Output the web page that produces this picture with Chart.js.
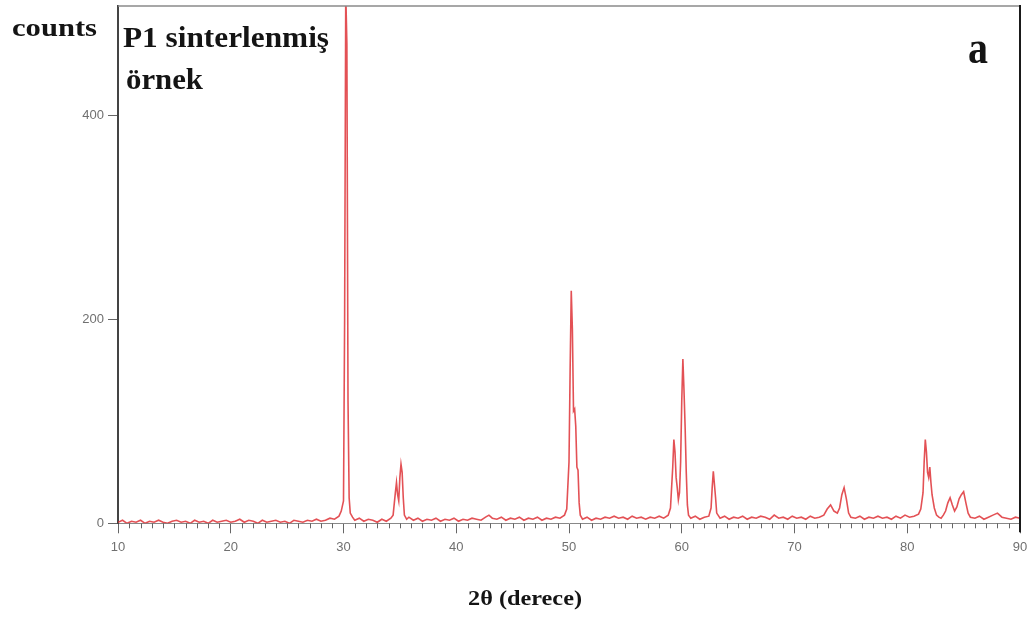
<!DOCTYPE html>
<html>
<head>
<meta charset="utf-8">
<script src="https://cdn.jsdelivr.net/npm/chart.js@4/dist/chart.umd.min.js"></script>
<style>
  html, body { margin: 0; padding: 0; background: #ffffff; }
  #wrap { width: 1032px; height: 625px; }
</style>
</head>
<body>
<div id="wrap"><canvas id="c" width="1032" height="625"></canvas></div>
<script>
const angles = [
  10.0,10.4,10.8,11.2,11.6,12.0,12.4,12.8,13.2,13.6,
  14.0,14.4,14.8,15.2,15.6,16.0,16.4,16.8,17.2,17.6,
  18.0,18.4,18.8,19.2,19.6,20.0,20.4,20.8,21.2,21.6,
  22.0,22.4,22.8,23.2,23.6,24.0,24.4,24.8,25.2,25.6,
  26.0,26.4,26.8,27.2,27.6,28.0,28.4,28.8,29.2,29.6,
  29.8,30.0,30.1,30.2,30.3,30.4,30.5,30.6,30.8,31.0,
  31.4,31.8,32.2,32.6,33.0,33.4,33.8,34.2,34.4,34.6,
  34.7,34.8,34.9,35.0,35.1,35.2,35.3,35.4,35.6,35.8,
  36.2,36.6,37.0,37.4,37.8,38.2,38.6,39.0,39.4,39.8,
  40.2,40.6,41.0,41.4,41.8,42.2,42.6,42.9,43.2,43.6,
  44.0,44.4,44.8,45.2,45.6,46.0,46.4,46.8,47.2,47.6,
  48.0,48.4,48.8,49.2,49.6,49.8,50.0,50.1,50.2,50.3,
  50.4,50.5,50.6,50.7,50.8,50.9,51.0,51.2,51.6,52.0,
  52.4,52.8,53.2,53.6,54.0,54.4,54.8,55.2,55.6,56.0,
  56.4,56.8,57.2,57.6,58.0,58.4,58.8,59.0,59.2,59.3,
  59.4,59.5,59.6,59.7,59.8,59.9,60.0,60.1,60.2,60.3,
  60.4,60.5,60.6,60.8,61.2,61.6,62.0,62.4,62.6,62.7,
  62.8,62.9,63.0,63.1,63.4,63.8,64.2,64.6,65.0,65.4,
  65.8,66.2,66.6,67.0,67.4,67.8,68.2,68.6,69.0,69.4,
  69.8,70.2,70.6,71.0,71.4,71.8,72.2,72.6,72.9,73.2,
  73.5,73.8,74.0,74.2,74.4,74.6,74.8,75.0,75.4,75.8,
  76.2,76.6,77.0,77.4,77.8,78.2,78.6,79.0,79.4,79.8,
  80.2,80.6,81.0,81.2,81.4,81.5,81.6,81.7,81.8,81.9,
  82.0,82.1,82.2,82.4,82.6,82.8,83.0,83.2,83.4,83.6,
  83.8,84.0,84.2,84.4,84.6,84.8,85.0,85.2,85.4,85.6,
  86.0,86.4,86.8,87.2,87.6,88.0,88.4,88.8,89.2,89.6,
  90.0
];
const counts = [
  1,3,0,2,1,3,0,2,1,3,
  1,0,2,3,1,2,0,3,1,2,
  0,3,1,2,3,1,2,4,1,3,
  2,0,3,1,2,3,1,2,0,3,
  2,1,3,2,4,2,3,5,4,7,
  12,22,200,520,470,120,25,10,6,3,
  5,2,4,3,1,4,2,5,8,30,
  40,28,22,45,58,50,25,8,4,6,
  3,5,2,4,3,5,2,4,3,5,
  2,4,3,5,4,3,6,8,5,4,
  6,3,5,4,6,3,5,4,6,3,
  5,4,6,5,8,14,60,150,228,190,
  110,112,95,55,52,20,8,4,6,3,
  5,4,6,5,7,5,6,4,7,5,
  6,4,6,5,7,5,8,15,55,82,
  70,45,35,23,30,60,120,161,130,94,
  50,18,8,5,7,4,6,7,15,35,
  51,38,25,10,5,7,4,6,5,7,
  4,6,5,7,6,4,8,5,6,4,
  7,5,6,4,7,5,6,8,14,18,
  12,10,15,28,35,24,10,6,5,7,
  4,6,5,7,5,6,4,7,5,8,
  6,7,9,14,30,60,82,70,50,45,
  55,40,28,15,8,6,5,8,12,20,
  25,18,12,16,24,28,31,20,10,6,
  5,7,4,6,8,10,6,5,4,6,
  5
];
const xTickValues = [10, 20, 30, 40, 50, 60, 70, 80, 90];
const yTickValues = [0, 200, 400];
const yLabel = "counts";
const sampleLabel = ["P1 sinterlenmiş", "örnek"];
const panelLetter = "a";
const xLabel = "2θ (derece)";

const points = angles.map((a, i) => ({ x: a, y: counts[i] }));

function stretchedText(ctx, s, x, y, size, targetW) {
  ctx.save();
  ctx.font = 'bold ' + size + 'px "Liberation Serif", "Times New Roman", serif';
  const w = ctx.measureText(s).width;
  ctx.translate(x, y);
  ctx.scale(targetW / w, 1);
  ctx.textBaseline = 'alphabetic';
  ctx.textAlign = 'left';
  ctx.fillStyle = '#141414';
  ctx.fillText(s, 0, 0);
  ctx.restore();
}

const decor = {
  id: 'decor',
  beforeDatasetsDraw(chart) {
    const ctx = chart.ctx, xs = chart.scales.x, ca = chart.chartArea;
    // minor ticks every degree
    ctx.save();
    ctx.strokeStyle = '#666';
    ctx.lineWidth = 1;
    for (let v = xs.min; v <= xs.max; v += 1) {
      if (xTickValues.includes(v)) continue;
      const px = Math.round(xs.getPixelForValue(v)) + 0.5;
      ctx.beginPath();
      ctx.moveTo(px, ca.bottom);
      ctx.lineTo(px, ca.bottom + 5);
      ctx.stroke();
    }
    ctx.restore();
  },
  afterDraw(chart) {
    const ctx = chart.ctx, ca = chart.chartArea;
    ctx.save();
    // top frame
    ctx.strokeStyle = '#8a8a8a';
    ctx.lineWidth = 1.5;
    ctx.beginPath();
    ctx.moveTo(ca.left, ca.top);
    ctx.lineTo(ca.right, ca.top);
    ctx.stroke();
    // right frame
    ctx.strokeStyle = '#1a1a1a';
    ctx.lineWidth = 2;
    ctx.beginPath();
    ctx.moveTo(ca.right, ca.top - 1);
    ctx.lineTo(ca.right, ca.bottom + 9);
    ctx.stroke();
    ctx.restore();
    stretchedText(ctx, yLabel, 12, 36, 26, 85);
    stretchedText(ctx, sampleLabel[0], 123, 47, 30, 206);
    stretchedText(ctx, sampleLabel[1], 126, 89, 30, 77);
    stretchedText(ctx, panelLetter, 968, 63, 46, 20);
    stretchedText(ctx, xLabel, 468, 605, 20, 114);
  }
};

new Chart(document.getElementById('c'), {
  type: 'line',
  data: {
    datasets: [{
      data: points,
      borderColor: 'rgba(222,50,55,0.85)',
      borderWidth: 1.6,
      pointRadius: 0,
      tension: 0,
      fill: false
    }]
  },
  options: {
    responsive: false,
    animation: false,
    events: [],
    layout: { padding: { left: 0, right: 12, top: 6, bottom: 0 } },
    plugins: { legend: { display: false }, tooltip: { enabled: false }, title: { display: false } },
    scales: {
      x: {
        type: 'linear',
        min: 10,
        max: 90,
        afterBuildTicks(scale) { scale.ticks = xTickValues.map(v => ({ value: v })); },
        afterFit(scale) { scale.height = 101.7; scale.paddingLeft = 0; scale.paddingRight = 0; },
        grid: { drawOnChartArea: false, drawTicks: true, tickLength: 10, color: '#666', tickWidth: 1 },
        border: { display: true, color: '#888', width: 1 },
        ticks: { color: '#707070', font: { family: '"Liberation Sans", Arial, sans-serif', size: 13 }, padding: 6, maxRotation: 0 }
      },
      y: {
        type: 'linear',
        min: 0,
        max: 507,
        afterBuildTicks(scale) { scale.ticks = yTickValues.map(v => ({ value: v })); },
        afterFit(scale) { scale.width = 118; scale.paddingTop = 0; scale.paddingBottom = 0; },
        grid: { drawOnChartArea: false, drawTicks: true, tickLength: 10, color: '#666', tickWidth: 1 },
        border: { display: true, color: '#444', width: 2 },
        ticks: { color: '#707070', font: { family: '"Liberation Sans", Arial, sans-serif', size: 13 }, padding: 4 }
      }
    }
  },
  plugins: [decor]
});
</script>
</body>
</html>
